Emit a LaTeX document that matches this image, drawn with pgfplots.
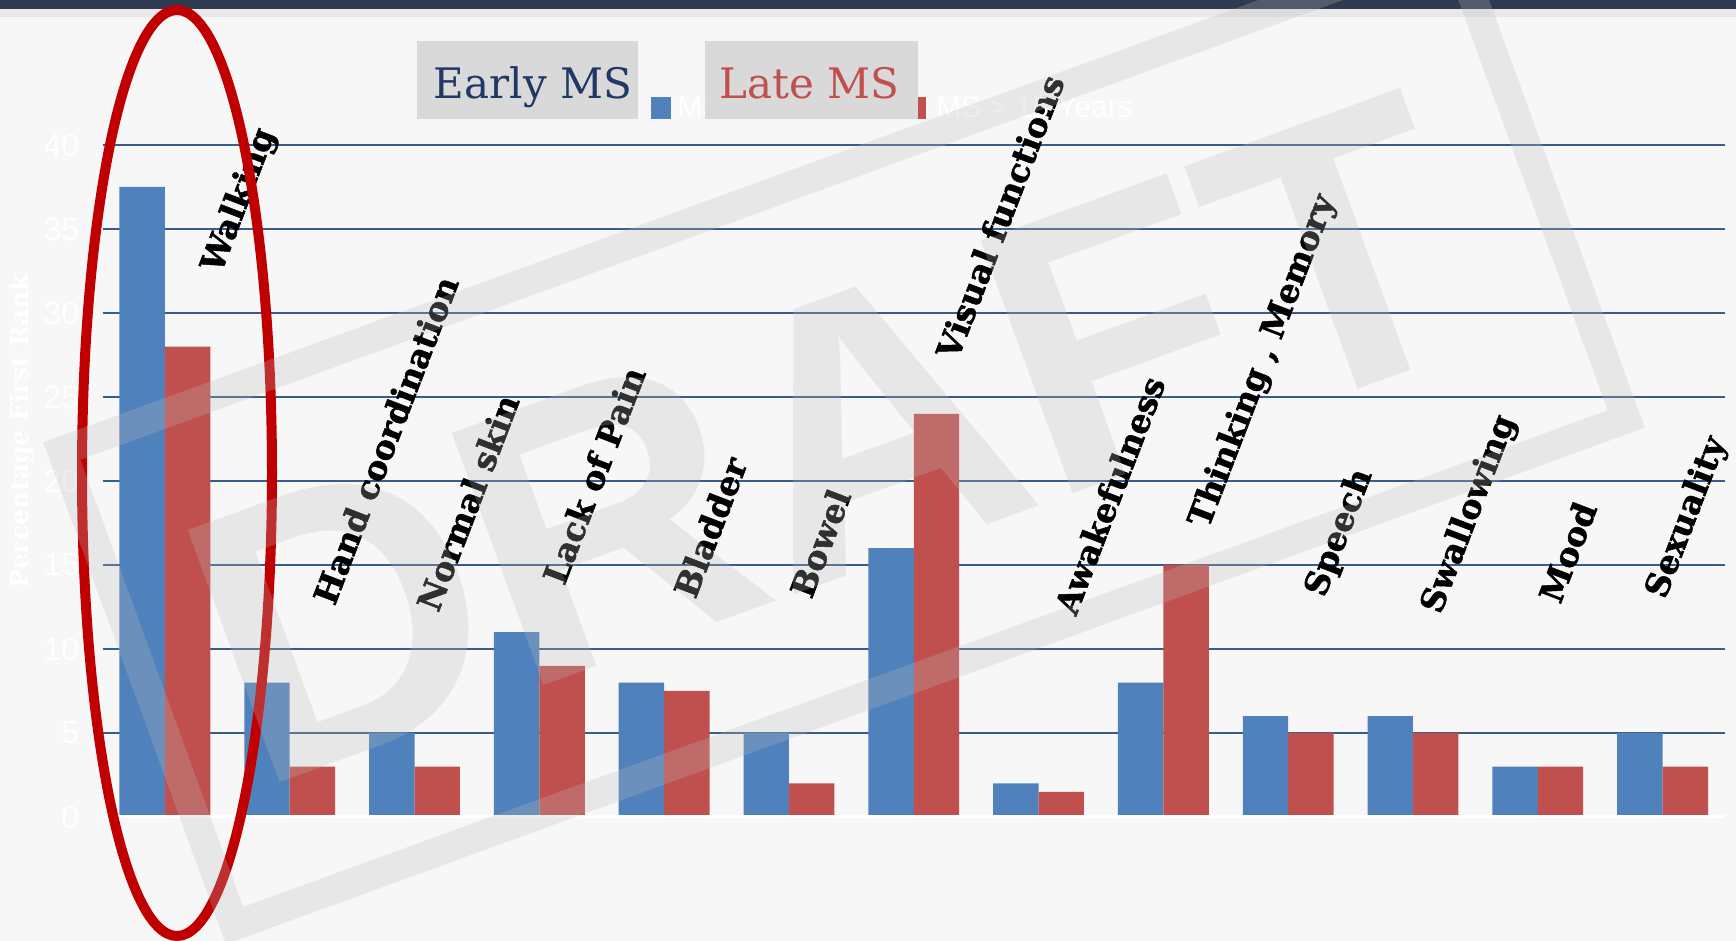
\documentclass[border=0pt]{standalone}
\usepackage{fontspec}
\setmainfont{DejaVu Serif}
\newfontfamily\arialfont{Liberation Sans}
\newfontfamily\catfont{DejaVu Serif}[BoldFeatures={FakeBold=1.5}]
\usepackage{pgfplots}
\pgfplotsset{compat=1.18}
\definecolor{bgc}{HTML}{F7F7F7}
\definecolor{topbar}{HTML}{2E3A4F}
\definecolor{topline}{HTML}{E8E8E8}
\definecolor{gridc}{HTML}{385D8A}
\definecolor{barblue}{HTML}{4F81BD}
\definecolor{barred}{HTML}{C0504D}
\definecolor{boxgray}{HTML}{D9D9D9}
\definecolor{earlyc}{HTML}{1F3864}
\definecolor{ellc}{HTML}{C00000}
\definecolor{wm}{HTML}{BCBCBC}
\begin{document}
\begin{tikzpicture}
\path[use as bounding box] (0,0) rectangle (868bp,470.5bp);
\clip (0,0) rectangle (868bp,470.5bp);
\fill[bgc] (0,0) rectangle (868bp,470.5bp);
\fill[topline] (0,462bp) rectangle (868bp,470.5bp);
\fill[topbar] (0,465.8bp) rectangle (868bp,470.5bp);
\begin{axis}[
  at={(51.25bp,62bp)}, anchor=south west, scale only axis,
  width=811.25bp, height=336bp,
  xmin=-0.5, xmax=12.5, ymin=0, ymax=40,
  axis line style={draw=none},
  xtick=\empty, ytick={0,5,...,40},
  ymajorgrids, grid style={gridc, line width=0.9bp},
  tick style={draw=none}, major tick length=0pt,
  /pgf/number format/assume math mode=true,
  yticklabel style={font=\arialfont\fontsize{16bp}{18bp}\selectfont, text=white, inner sep=0pt, anchor=east, xshift=-11.5bp},
  clip=false,
]
\addplot[ybar, bar width=0.364, bar shift=-0.182, fill=barblue, draw=none] coordinates {
(0,37.5) (1,8) (2,5) (3,11) (4,8) (5,5) (6,16) (7,2) (8,8) (9,6) (10,6) (11,3) (12,5)};
\addplot[ybar, bar width=0.364, bar shift=0.182, fill=barred, draw=none] coordinates {
(0,28) (1,3) (2,3) (3,9) (4,7.5) (5,2) (6,24) (7,1.5) (8,15) (9,5) (10,5) (11,3) (12,3)};
\draw[white, line width=1.5bp] (axis cs:-0.5,0) -- (axis cs:12.5,0);
\tikzset{cat/.style={rotate=69, anchor=base west, inner sep=0pt, font=\catfont\bfseries\fontsize{16.5bp}{19bp}\selectfont, text=black}}
\node[cat] at (axis cs:0.45,32.3) {Walking};
\node[cat] at (axis cs:1.36,12.5) {Hand coordination};
\node[cat] at (axis cs:2.19,12.1) {Normal skin};
\node[cat] at (axis cs:3.20,13.7) {Lack of Pain};
\node[cat] at (axis cs:4.25,12.9) {Bladder};
\node[cat] at (axis cs:5.18,12.9) {Bowel};
\node[cat] at (axis cs:6.35,27.1) {Visual functions};
\node[cat] at (axis cs:7.30,11.9) {Awakefulness};
\node[cat] at (axis cs:8.36,17.1) {Thinking , Memory};
\node[cat] at (axis cs:9.29,13.0) {Speech};
\node[cat] at (axis cs:10.22,12.0) {Swallowing};
\node[cat] at (axis cs:11.18,12.6) {Mood};
\node[cat] at (axis cs:12.02,12.9) {Sexuality};
\end{axis}
% y label
\node[rotate=90, text=white, font=\bfseries\fontsize{12.5bp}{14bp}\selectfont] at (11bp,255bp) {Percentage First Rank};
% original legend remnants
\fill[barblue] (325.5bp,411bp) rectangle (335.5bp,422bp);
\fill[barred] (453bp,411bp) rectangle (463bp,422bp);
\node[anchor=base west, inner sep=0pt, text=white, font=\arialfont\fontsize{15bp}{18bp}\selectfont] at (338.5bp,411.5bp) {MS < 5 Years};
\node[anchor=base west, inner sep=0pt, text=white, font=\arialfont\fontsize{15bp}{18bp}\selectfont] at (468bp,411.5bp) {MS > 15 Years};
% overlay legend boxes
\fill[boxgray] (208.5bp,411bp) rectangle (318.75bp,450bp);
\fill[boxgray] (352.5bp,411bp) rectangle (459bp,450bp);
\node[anchor=base, inner sep=0pt, text=earlyc, font=\fontsize{21bp}{24bp}\selectfont] at (266.5bp,421bp) {Early MS};
\node[anchor=base, inner sep=0pt, text=barred, font=\fontsize{21bp}{24bp}\selectfont] at (404.75bp,421bp) {Late MS};
% red ellipse
\draw[ellc, line width=5bp] (88.5bp,234bp) ellipse [x radius=47.5bp, y radius=231.5bp];
% watermark
\begin{scope}[opacity=0.26]
\draw[wm, line width=14.5bp, rotate around={20:(422bp,253bp)}] (51.75bp,126.75bp) rectangle (792.25bp,379.25bp);
\node[rotate=20, text=wm, inner sep=0pt, font=\arialfont\bfseries\fontsize{195bp}{195bp}\selectfont] at (415bp,251bp) {DRAFT};
\end{scope}
\end{tikzpicture}
\end{document}
